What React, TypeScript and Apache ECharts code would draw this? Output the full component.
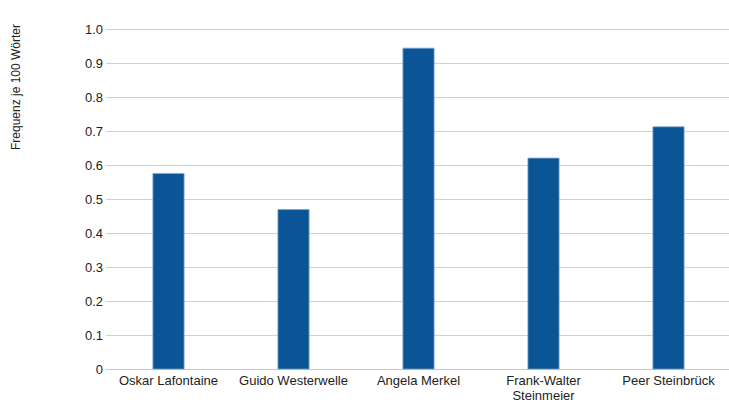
import React, { useEffect, useRef } from "react";
import * as echarts from "echarts";

const categories = ["Oskar Lafontaine", "Guido Westerwelle", "Angela Merkel", "Frank-Walter\nSteinmeier", "Peer Steinbrück"];
const values = [0.577, 0.471, 0.945, 0.622, 0.714];
const yTitle = "Frequenz je 100 Wörter";

export default function App() {
  const ref = useRef<HTMLDivElement>(null);
  useEffect(() => {
    document.body.style.margin = "0";
    document.body.style.overflow = "hidden";
    const chart = echarts.init(ref.current!, null, { renderer: "svg" });
    chart.setOption({
      animation: false,
      backgroundColor: "#ffffff",
      grid: { left: 106, right: -2, top: 29, bottom: 33.5, containLabel: false, outerBoundsMode: "none" },
      xAxis: {
        type: "category",
        data: categories,
        axisLine: { show: true, lineStyle: { color: "#c8c8c8" } },
        axisTick: { show: false },
        axisLabel: { color: "#222", fontFamily: "Liberation Sans, Arial", fontSize: 13, margin: 4, interval: 0, lineHeight: 14.5 },
      },
      yAxis: {
        type: "value",
        min: 0,
        max: 1,
        interval: 0.1,
        axisLine: { show: false },
        axisTick: { show: false },
        splitLine: { lineStyle: { color: "#d0d0d0" } },
        axisLabel: {
          color: "#222",
          fontFamily: "Liberation Sans, Arial",
          fontSize: 13,
          margin: 3,
          formatter: (v: number) => (v === 0 ? "0" : v.toFixed(1)),
        },
      },
      graphic: [
        {
          type: "text",
          x: 16,
          y: 87,
          rotation: Math.PI / 2,
          style: {
            text: yTitle,
            fill: "#222",
            font: "12px Liberation Sans, Arial",
            align: "center",
            verticalAlign: "middle",
          },
        },
      ],
      series: [
        {
          type: "bar",
          data: values,
          barWidth: 32,
          itemStyle: { color: "#0b5596", borderColor: "#7fa9cf", borderWidth: 0.8 },
        },
      ],
    });
    return () => chart.dispose();
  }, []);
  return <div ref={ref} style={{ position: "absolute", left: 0, top: 0, width: 729, height: 403 }} />;
}
